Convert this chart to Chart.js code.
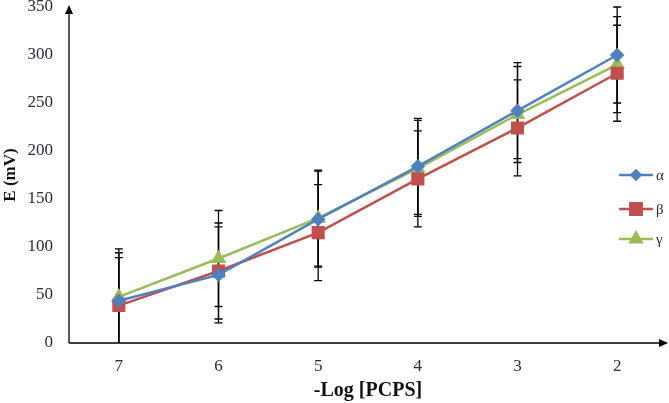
<!DOCTYPE html>
<html>
<head>
<meta charset="utf-8">
<script src="https://cdn.jsdelivr.net/npm/chart.js@4.4.1/dist/chart.umd.min.js"></script>
<style>
  html, body { margin: 0; padding: 0; background: #fff; }
  #wrap { width: 669px; height: 403px; }
</style>
</head>
<body>
<div id="wrap"><canvas id="chart" width="669" height="403"></canvas></div>
<script>
// data
const categories = ['7', '6', '5', '4', '3', '2'];
const alphaValues = [44, 71, 129, 184, 242, 300];
const betaValues = [39, 75, 115, 171, 224, 281];
const gammaValues = [48, 88, 130, 182, 238, 290];
const errorAmount = 50; // fixed +/- error bars
const yTicks = [0, 50, 100, 150, 200, 250, 300, 350];

const serif = '"Liberation Serif", "Times New Roman", serif';

// error bars, drawn under the lines and markers
const errorBars = {
    id: 'errorBars',
    beforeDatasetsDraw(chart) {
        const { ctx, chartArea, scales } = chart;
        ctx.save();
        ctx.beginPath();
        ctx.rect(chartArea.left, chartArea.top - 2, chartArea.width, chartArea.height + 2);
        ctx.clip();
        ctx.strokeStyle = '#000';
        ctx.lineWidth = 1.3;
        chart.data.datasets.forEach((ds) => {
            ds.data.forEach((v, i) => {
                const x = scales.x.getPixelForValue(i);
                const yTop = scales.y.getPixelForValue(v + errorAmount);
                const yBot = scales.y.getPixelForValue(v - errorAmount);
                ctx.beginPath();
                ctx.moveTo(x, yTop);
                ctx.lineTo(x, yBot);
                ctx.moveTo(x - 4, yTop);
                ctx.lineTo(x + 4, yTop);
                ctx.moveTo(x - 4, yBot);
                ctx.lineTo(x + 4, yBot);
                ctx.stroke();
            });
        });
        ctx.restore();
    }
};

// axis lines with arrow heads
const axisArrows = {
    id: 'axisArrows',
    afterDraw(chart) {
        const { ctx, chartArea } = chart;
        const left = chartArea.left, bottom = chartArea.bottom;
        ctx.save();
        ctx.strokeStyle = '#000';
        ctx.fillStyle = '#000';
        ctx.lineWidth = 1.3;
        ctx.beginPath();
        ctx.moveTo(left, bottom);
        ctx.lineTo(left, chartArea.top + 2);
        ctx.moveTo(left, bottom);
        ctx.lineTo(chartArea.right - 2, bottom);
        ctx.stroke();
        // up arrow
        ctx.beginPath();
        ctx.moveTo(left, chartArea.top - 2);
        ctx.lineTo(left - 4, chartArea.top + 7);
        ctx.lineTo(left + 4, chartArea.top + 7);
        ctx.closePath();
        ctx.fill();
        // right arrow
        ctx.beginPath();
        ctx.moveTo(chartArea.right + 1, bottom);
        ctx.lineTo(chartArea.right - 8, bottom - 4);
        ctx.lineTo(chartArea.right - 8, bottom + 4);
        ctx.closePath();
        ctx.fill();
        ctx.restore();
    }
};

// legend sitting on the right, over the plot
const sideLegend = {
    id: 'sideLegend',
    afterDraw(chart) {
        const { ctx } = chart;
        const rows = [175, 209, 239];
        const sizes = [4.5, 8, 6.5];
        ctx.save();
        chart.data.datasets.forEach((ds, i) => {
            const y = rows[i];
            ctx.strokeStyle = ds.borderColor;
            ctx.lineWidth = 2.5;
            ctx.beginPath();
            ctx.moveTo(619, y);
            ctx.lineTo(653, y);
            ctx.stroke();
            Chart.helpers.drawPoint(ctx, {
                pointStyle: ds.pointStyle,
                radius: sizes[i],
                borderWidth: 1
            }, 636, y);
            ctx.fillStyle = ds.borderColor;
            ctx.fill();
            ctx.fillStyle = '#1f2a44';
            ctx.font = '15px ' + serif;
            ctx.textBaseline = 'middle';
            ctx.fillText(ds.label, 656, y + 1);
        });
        ctx.restore();
    }
};

const makeSeries = (label, data, color, style, radius) => ({
    label: label,
    data: data,
    borderColor: color,
    backgroundColor: color,
    pointBackgroundColor: color,
    pointBorderColor: color,
    pointStyle: style,
    pointRadius: radius,
    pointHoverRadius: radius,
    borderWidth: 2.5,
    tension: 0,
    clip: false
});

// drop the automatic label padding so the plot fills the frame
const noPad = (scale) => {
    scale.paddingTop = 0;
    scale.paddingBottom = 0;
    scale.paddingLeft = 0;
    scale.paddingRight = 0;
};

new Chart(document.getElementById('chart'), {
    type: 'line',
    data: {
        labels: categories,
        datasets: [
            makeSeries('α', alphaValues, '#4F81BD', 'rectRot', 5.5),
            makeSeries('β', betaValues, '#C0504D', 'rect', 7.5),
            makeSeries('γ', gammaValues, '#9BBB59', 'triangle', 6.5)
        ]
    },
    options: {
        responsive: false,
        animation: false,
        layout: {
            autoPadding: false,
            padding: { top: 7, right: 2, left: 0, bottom: 0 }
        },
        plugins: {
            legend: { display: false },
            tooltip: { enabled: false }
        },
        scales: {
            x: {
                offset: true,
                grid: { display: false, drawTicks: false },
                border: { display: false },
                ticks: {
                    color: '#2b2b38',
                    padding: 13,
                    font: { family: serif, size: 17 }
                },
                title: {
                    display: true,
                    text: '-Log [PCPS]',
                    color: '#111',
                    padding: { top: 4, bottom: 0 },
                    font: { family: serif, size: 20, weight: 'bold' }
                },
                afterFit(scale) {
                    scale.height = 60;
                    noPad(scale);
                }
            },
            y: {
                min: 0,
                max: 350,
                afterBuildTicks(scale) {
                    scale.ticks = yTicks.map((v) => ({ value: v }));
                },
                grid: { display: false, drawTicks: false },
                border: { display: false },
                ticks: {
                    color: '#2b2b38',
                    padding: 16,
                    font: { family: serif, size: 17 }
                },
                title: {
                    display: true,
                    text: 'E (mV)',
                    color: '#111',
                    padding: { top: 0, bottom: 0 },
                    font: { family: serif, size: 17, weight: 'bold' }
                },
                afterFit(scale) {
                    scale.width = 69;
                    noPad(scale);
                }
            }
        }
    },
    plugins: [errorBars, axisArrows, sideLegend]
});
</script>
</body>
</html>
